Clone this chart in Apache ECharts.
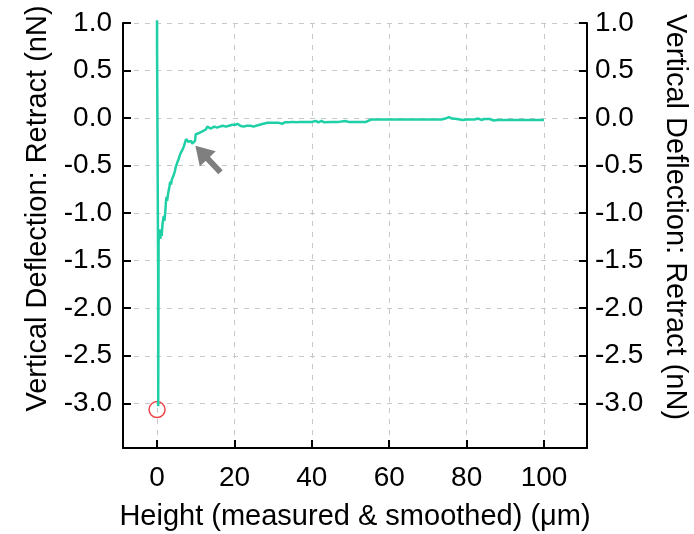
<!DOCTYPE html>
<html>
<head>
<meta charset="utf-8">
<script src="https://cdn.jsdelivr.net/npm/echarts@6/dist/echarts.min.js"></script>
<style>
html,body{margin:0;padding:0;background:#fff;}
#chart{width:694px;height:534px;}
</style>
</head>
<body>
<div id="chart"></div>
<script>
// Retract curve: height (µm) vs vertical deflection (nN)
const xValues = [0, 0, 0.25, 0.28, 0.3, 0.35, 0.4, 0.55, 0.7, 0.85, 1.0, 1.2, 1.4, 1.6, 1.75, 1.9, 2.1, 2.3, 2.45, 2.6, 2.8, 3.0, 3.2, 3.4, 3.6, 3.8, 4.0, 4.2, 4.4, 4.6, 4.8, 5.0, 5.2, 5.4, 5.6, 5.8, 6.0, 6.2, 6.4, 6.6, 6.9, 7.2, 7.5, 7.8, 8.1, 8.5, 8.8, 9.1, 9.5, 9.8, 10.0, 10.3, 10.7, 11.2, 11.7, 12.2, 12.6, 13.0, 13.4, 13.8, 14.2, 14.8, 15.5, 16.2, 17.0, 17.8, 18.6, 19.4, 20.2, 20.8, 21.5, 22.3, 23.2, 24.1, 25.0, 25.6, 26.5, 27.5, 28.5, 30, 31.5, 32.3, 33, 34, 35, 35.5, 36, 37, 38.5, 40, 41, 41.7, 42.5, 43.2, 45, 47, 48.6, 49.5, 52, 54, 54.5, 55.3, 57, 60, 65, 70, 73.5, 74.5, 75.4, 76.2, 77.5, 79, 80, 82, 83, 83.8, 84.5, 86, 87, 88, 90, 95, 100];
const yValues = [1.03, 0.74, 0.72, -1.6, -3.03, -2.2, -1.3, -1.22, -1.17, -1.27, -1.2, -1.24, -1.12, -1.06, -1.03, -1.08, -1.0, -0.88, -0.83, -0.87, -0.81, -0.79, -0.72, -0.67, -0.7, -0.65, -0.64, -0.61, -0.6, -0.56, -0.52, -0.5, -0.47, -0.45, -0.43, -0.4, -0.38, -0.36, -0.34, -0.33, -0.3, -0.26, -0.22, -0.24, -0.25, -0.26, -0.24, -0.27, -0.28, -0.24, -0.17, -0.15, -0.16, -0.15, -0.14, -0.13, -0.12, -0.09, -0.1, -0.11, -0.1, -0.09, -0.1, -0.09, -0.08, -0.09, -0.08, -0.07, -0.07, -0.06, -0.08, -0.09, -0.08, -0.08, -0.09, -0.08, -0.07, -0.06, -0.05, -0.05, -0.05, -0.06, -0.045, -0.045, -0.04, -0.025, -0.045, -0.04, -0.04, -0.04, -0.03, -0.045, -0.03, -0.045, -0.04, -0.04, -0.03, -0.04, -0.04, -0.04, -0.055, -0.015, -0.015, -0.015, -0.015, -0.015, -0.015, -0.005, 0.01, -0.005, -0.01, -0.02, -0.015, -0.015, -0.005, -0.02, -0.01, -0.01, -0.025, -0.02, -0.02, -0.02, -0.02];

// Marked point (red circle) and annotation arrow (tail -> tip)
const circleX = [0];
const circleY = [-3.066];
const arrowTail = [16.4, -0.57];
const arrowTip = [11.5, -0.36];

// Axis ranges & ticks
const xRange = [-8.8, 111.1];
const yRange = [-3.47, 1.0];
const xTicks = [0, 20, 40, 60, 80, 100];
const yTicks = [-3.0, -2.5, -2.0, -1.5, -1.0, -0.5, 0.0, 0.5, 1.0];

const xTitle = 'Height (measured & smoothed) (μm)';
const yTitle = 'Vertical Deflection: Retract (nN)';

const FONT = 'Liberation Sans, Arial, sans-serif';
const lineData = xValues.map((x, i) => [x, yValues[i]]);
const circleData = circleX.map((x, i) => [x, circleY[i]]);

const chart = echarts.init(document.getElementById('chart'), null, {renderer: 'canvas'});

const splitLineStyle = {show: true, lineStyle: {color: '#c8c8c8', width: 1, type: [5, 6]}};
const axisLineStyle = {show: true, onZero: false, lineStyle: {color: '#000', width: 2}};

chart.setOption({
  animation: false,
  backgroundColor: '#fff',
  grid: {left: 123, right: 107, top: 23, bottom: 86, containLabel: false, outerBoundsMode: 'none'},
  xAxis: {
    type: 'value', min: xRange[0], max: xRange[1],
    axisLine: axisLineStyle,
    axisTick: {show: true, inside: true, length: 8, customValues: xTicks, lineStyle: {color: '#000', width: 2}},
    axisLabel: {customValues: xTicks, color: '#000', fontFamily: FONT, fontSize: 28, margin: 16, formatter: v => String(Math.round(v))},
    splitLine: splitLineStyle,
    name: xTitle, nameLocation: 'middle', nameGap: 54,
    nameTextStyle: {color: '#000', fontFamily: FONT, fontSize: 29}
  },
  yAxis: [{
    type: 'value', position: 'left', min: yRange[0], max: yRange[1],
    axisLine: axisLineStyle,
    axisTick: {show: true, inside: true, length: 8, customValues: yTicks, lineStyle: {color: '#000', width: 2}},
    axisLabel: {customValues: yTicks, color: '#000', fontFamily: FONT, fontSize: 28, margin: 11, formatter: v => v.toFixed(1)},
    splitLine: splitLineStyle,
    name: yTitle, nameLocation: 'middle', nameGap: 70,
    nameTextStyle: {color: '#000', fontFamily: FONT, fontSize: 29, padding: [0, 0, 0, 54]}
  }, {
    type: 'value', position: 'right', min: yRange[0], max: yRange[1],
    axisLine: axisLineStyle,
    axisTick: {show: true, inside: true, length: 8, customValues: yTicks, lineStyle: {color: '#000', width: 2}},
    axisLabel: {customValues: yTicks, color: '#000', fontFamily: FONT, fontSize: 28, margin: 8, formatter: v => v.toFixed(1)},
    splitLine: {show: false},
    name: yTitle, nameLocation: 'middle', nameGap: 73, nameRotate: -90,
    nameTextStyle: {color: '#000', fontFamily: FONT, fontSize: 29, padding: [0, 37, 0, 0]}
  }],
  series: [{
    type: 'line', xAxisIndex: 0, yAxisIndex: 0,
    data: lineData, showSymbol: false, symbol: 'none', clip: false,
    lineStyle: {color: '#1fd0a6', width: 2.5},
    markLine: {
      silent: true, animation: false,
      symbol: ['none', 'triangle'], symbolSize: [22, 18],
      label: {show: false},
      lineStyle: {color: '#7f7f7f', width: 6, type: 'solid'},
      data: [[{coord: arrowTail}, {coord: arrowTip}]]
    }
  }, {
    type: 'scatter', xAxisIndex: 0, yAxisIndex: 0,
    data: circleData, symbol: 'circle', symbolSize: 16, silent: true,
    itemStyle: {color: 'rgba(0,0,0,0)', borderColor: '#e8161a', borderWidth: 1.5}
  }]
});
</script>
</body>
</html>
